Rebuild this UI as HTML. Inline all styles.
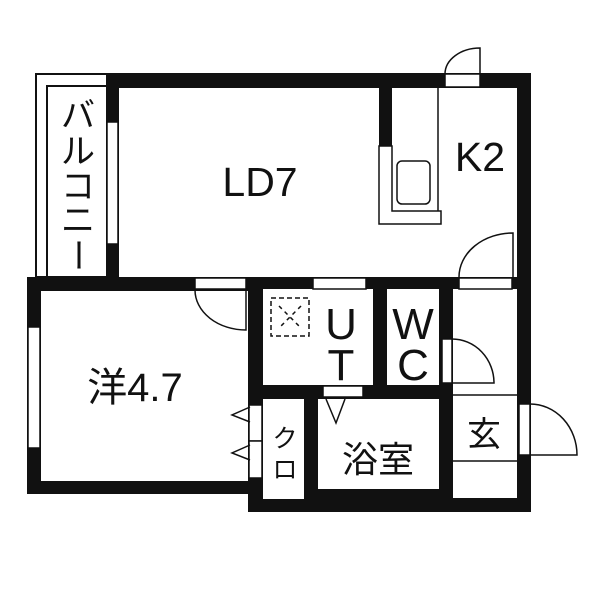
<!DOCTYPE html><html><head><style>body{margin:0;background:#fff}svg{display:block}text{font-family:"Liberation Sans","Noto Sans CJK JP",sans-serif;fill:#111}</style></head><body>
<svg width="600" height="600" viewBox="0 0 600 600" xmlns="http://www.w3.org/2000/svg">
<rect width="600" height="600" fill="#fff"/>
<g fill="none" stroke="#111" stroke-width="2">
<rect x="36" y="74" width="72" height="203"/>
<rect x="47" y="86" width="60" height="191"/>
</g>
<g fill="#111">
<rect x="106" y="73" width="425" height="216"/>
<rect x="27" y="277" width="236" height="217"/>
<rect x="248" y="277" width="283" height="235"/>
</g>
<g fill="#fff">
<rect x="119" y="88" width="398" height="189"/>
<rect x="41" y="291" width="207" height="190"/>
<rect x="263" y="289" width="110" height="96"/>
<rect x="387" y="289" width="52" height="96"/>
<rect x="453" y="289" width="64" height="209"/>
<rect x="318" y="399" width="121" height="90"/>
<rect x="263" y="399" width="41" height="100"/>
</g>
<rect x="379" y="88" width="13" height="58" fill="#111"/>
<g fill="#fff" stroke="#111" stroke-width="1.5">
<rect x="107" y="122" width="11" height="122"/>
<rect x="28" y="327" width="12" height="121"/>
<rect x="195" y="278" width="51" height="11"/>
<rect x="313" y="278" width="53" height="11"/>
<rect x="459" y="278" width="53" height="11"/>
<rect x="445" y="74" width="35" height="13"/>
<rect x="442" y="339" width="10" height="44"/>
<rect x="323" y="386" width="40" height="11"/>
<rect x="249" y="405" width="13" height="36"/>
<rect x="249" y="441" width="13" height="37"/>
<rect x="519" y="404" width="11" height="51"/>
</g>
<g fill="none" stroke="#111" stroke-width="1.5">
<path d="M195 290 A51 40 0 0 0 246 330 L246 290"/>
<path d="M459 277 A54 44 0 0 1 513 233 L513 277"/>
<path d="M445 74 A35 26 0 0 1 480 48 L480 74"/>
<path d="M452 339 A42 44 0 0 1 494 383 L452 383"/>
<path d="M530 404 A47 51 0 0 1 577 455 L530 455"/>
<path d="M392 146 L379 146 L379 224 L441 224 L441 211 L392 211 Z"/>
<line x1="438" y1="88" x2="438" y2="211"/>
<rect x="397" y="161" width="33" height="43" rx="5"/>
<path d="M326 399 L336 423 L345 399"/>
<path d="M250 407 L232 415 L250 422"/>
<path d="M250 445 L232 453 L250 460"/>
<line x1="453" y1="395" x2="517" y2="395"/>
<line x1="453" y1="461" x2="517" y2="461"/>
<rect x="271" y="298" width="38" height="38" stroke-dasharray="5,3"/>
<path d="M279 306 L301 328 M301 306 L279 328" stroke-dasharray="4,4"/>
</g>
<text x="260" y="196" font-size="41" text-anchor="middle">LD7</text>
<text x="480" y="171" font-size="41" text-anchor="middle">K2</text>
<text x="135" y="401" font-size="40" text-anchor="middle">洋4.7</text>
<g text-anchor="middle">
<g font-size="34">
<text x="78" y="127">バ</text><text x="78" y="163">ル</text><text x="78" y="198">コ</text><text x="78" y="232">ニ</text>
<text x="78" y="267" transform="rotate(90 78 255)">ー</text>
</g>
<g font-size="44">
<text x="341" y="339">U</text><text x="341" y="380">T</text>
<text x="413" y="339">W</text><text x="413" y="380">C</text>
</g>
<text x="484" y="446" font-size="34">玄</text>
<text x="378" y="472" font-size="36">浴室</text>
<text x="285" y="447" font-size="25">ク</text><text x="285" y="478" font-size="25">ロ</text>
</g>
</svg></body></html>
